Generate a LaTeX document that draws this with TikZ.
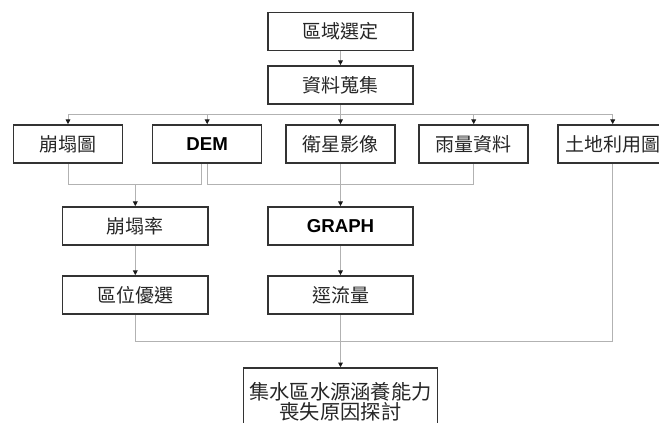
\documentclass[tikz,border=0pt]{standalone}
\usepackage{fontspec}
\setmainfont{Liberation Sans}
\newfontfamily\cjk{Noto Sans CJK TC}
\usetikzlibrary{arrows.meta}
\begin{document}
\begin{tikzpicture}[x=0.75pt,y=-0.75pt,
  box/.style={draw=black!80, line width=1.1pt, inner sep=0pt, text=black!85,
    minimum height=28.7pt, font=\cjk\fontsize{14.25pt}{16pt}\selectfont},
  wide/.style={box, minimum width=109pt},
  narrow/.style={box, minimum width=81.75pt},
  latin/.style={font=\bfseries\fontsize{14pt}{16pt}\selectfont, text=black},
  con/.style={draw=gray!60, line width=0.75pt},
  arr/.style={con, -{Triangle[length=3.5pt,width=3.5pt,color=black!90]}}
]
\useasboundingbox (0,0) rectangle (659,423);
\clip (0,0) rectangle (659,423);
\fill[white] (0,0) rectangle (659,423);

\node[wide] (A) at (340.5,31.5) {區域選定};
\node[wide] (B) at (340.5,85) {資料蒐集};
\node[narrow] (C1) at (68,144) {崩塌圖};
\node[narrow,latin] (C2) at (207.2,144) {DEM};
\node[narrow] (C3) at (340.5,144) {衛星影像};
\node[narrow] (C4) at (473.7,144) {雨量資料};
\node[narrow] (C5) at (612.7,144) {土地利用圖};
\node[wide] (D1) at (135.3,226) {崩塌率};
\node[wide,latin] (D2) at (340.5,226) {GRAPH};
\node[wide] (E1) at (135.3,295) {區位優選};
\node[wide] (E2) at (340.5,295) {逕流量};
\node[box, minimum width=145.5pt, minimum height=50pt, align=center,
  font=\cjk\fontsize{15.2pt}{15pt}\selectfont] (F) at (340.5,401.3)
  {集水區水源涵養能力\\喪失原因探討};

\coordinate (bus1) at (0,115);
\coordinate (bus2) at (0,185);
\coordinate (bus3) at (0,341);

\draw[arr] (A) -- (B);
\draw[con] (C1.north |- bus1) -- (C5.north |- bus1);
\draw[arr] (B) -- (C3);
\foreach \n in {C1,C2,C4,C5} \draw[arr] (\n.north |- bus1) -- (\n.north);

\draw[con] (C1.south) |- ([xshift=-4.1pt]C2.south |- bus2) -- ([xshift=-4.1pt]C2.south);
\draw[con] (C2.south) |- (C4.south |- bus2) -- (C4.south);
\draw[arr] (D1.north |- bus2) -- (D1.north);
\draw[arr] (C3) -- (D2);
\draw[arr] (D1) -- (E1);
\draw[arr] (D2) -- (E2);
\draw[con] (E1.south) |- (C5.south |- bus3) -- (C5.south);
\draw[arr] (E2) -- (F);
\end{tikzpicture}
\end{document}
